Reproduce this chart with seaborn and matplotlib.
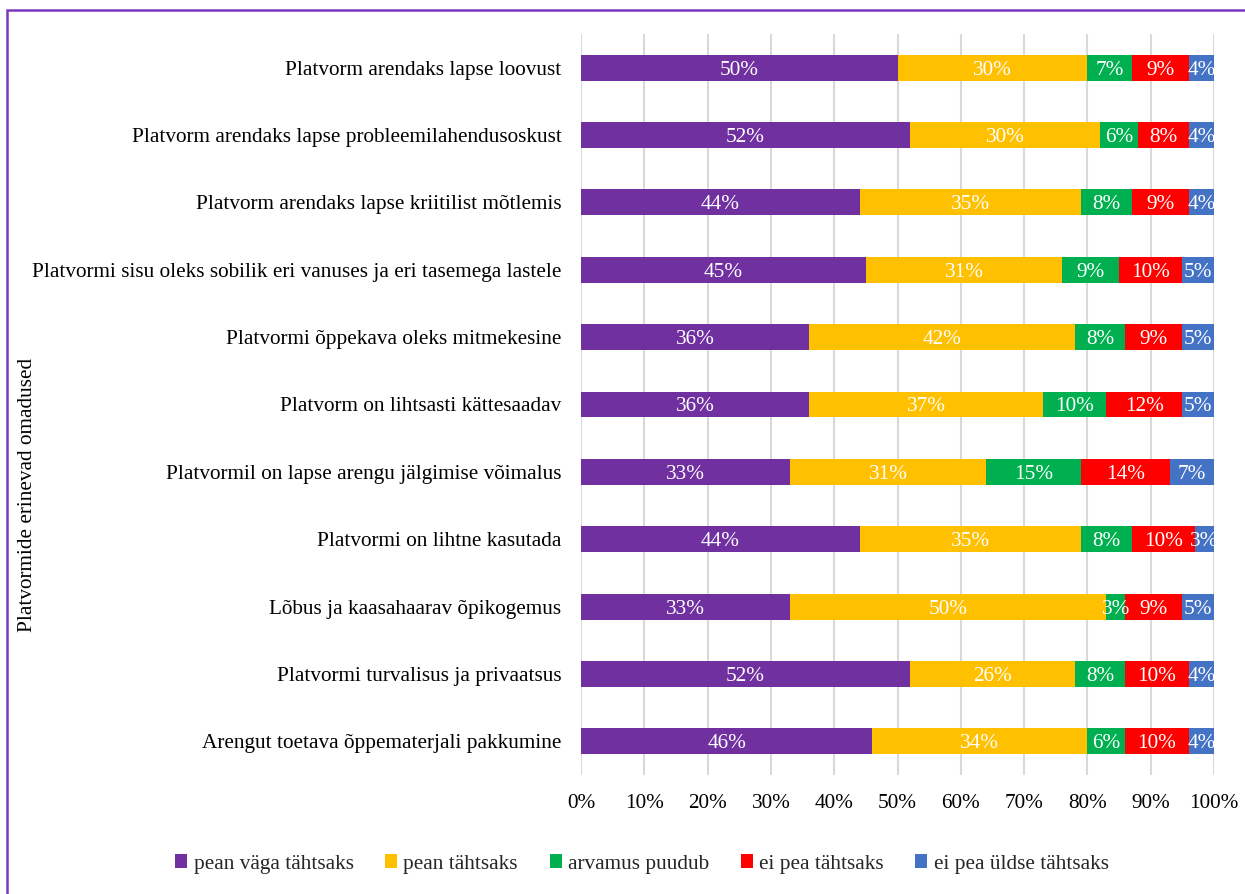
import numpy as np
import pandas as pd
import matplotlib
matplotlib.use('Agg')
import matplotlib.pyplot as plt
from matplotlib.patches import Patch, Rectangle
import seaborn as sns

categories = [
    'Platvorm arendaks lapse loovust',
    'Platvorm arendaks lapse probleemilahendusoskust',
    'Platvorm arendaks lapse kriitilist mõtlemis',
    'Platvormi sisu oleks sobilik eri vanuses ja eri tasemega lastele',
    'Platvormi õppekava oleks mitmekesine',
    'Platvorm on lihtsasti kättesaadav',
    'Platvormil on lapse arengu jälgimise võimalus',
    'Platvormi on lihtne kasutada',
    'Lõbus ja kaasahaarav õpikogemus',
    'Platvormi turvalisus ja privaatsus',
    'Arengut toetava õppematerjali pakkumine',
]
series = ['pean väga tähtsaks', 'pean tähtsaks', 'arvamus puudub',
          'ei pea tähtsaks', 'ei pea üldse tähtsaks']
pean_vaga = [50, 52, 44, 45, 36, 36, 33, 44, 33, 52, 46]
pean = [30, 30, 35, 31, 42, 37, 31, 35, 50, 26, 34]
arvamus_puudub = [7, 6, 8, 9, 8, 10, 15, 8, 3, 8, 6]
ei_pea = [9, 8, 9, 10, 9, 12, 14, 10, 9, 10, 10]
ei_pea_uldse = [4, 4, 4, 5, 5, 5, 7, 3, 5, 4, 4]
colors = ['#7030A0', '#FFC000', '#00B050', '#FF0000', '#4472C4']

df = pd.DataFrame({'kategooria': categories})
values = [pean_vaga, pean, arvamus_puudub, ei_pea, ei_pea_uldse]
for name, vals in zip(series, values):
    df[name] = vals

sns.set_theme(style='white')
plt.rcParams['font.family'] = ['Liberation Serif', 'DejaVu Serif']
FS = 15.3

fig = plt.figure(figsize=(12.45, 8.94), dpi=100)
ax = fig.add_axes([581 / 1245, 1 - 775 / 894, (1214 - 581) / 1245, (775 - 34) / 894])

# cumulative sums, drawn from the widest to the narrowest so they stack
cum = df[series].cumsum(axis=1)
for name, col in reversed(list(zip(series, colors))):
    sns.barplot(data=cum.assign(kategooria=df['kategooria']), x=name, y='kategooria',
                color=col, saturation=1, width=0.385, orient='h', ax=ax,
                linewidth=0, zorder=3)

# segment labels
for i in range(len(categories)):
    left = 0
    for name in series:
        v = df.loc[i, name]
        ax.text(left + v / 2, i, f'{v}%', ha='center', va='center_baseline',
                color='white', fontsize=FS, zorder=5)
        left += v

ax.set_xlim(0, 100)
ax.set_xticks(np.arange(0, 101, 10))
ax.set_xticklabels([f'{t}%' for t in range(0, 101, 10)])
ax.xaxis.grid(True, color='#D9D9D9', linewidth=1.5, zorder=0)
ax.yaxis.grid(False)
for s in ax.spines.values():
    s.set_visible(False)
ax.tick_params(axis='x', length=0, pad=14, labelsize=FS, labelcolor='#000000')
ax.tick_params(axis='y', length=0, pad=14, labelsize=FS, labelcolor='#000000')
ax.set_xlabel('')
ax.set_ylabel('')

fig.text(28 / 1245, 1 - 495 / 894, 'Platvormide erinevad omadused', rotation=90,
         ha='center', va='center', fontsize=FS, color='#000000')

handles = [Patch(facecolor=c, edgecolor='none') for c in colors]
fig.legend(handles, series, loc='center', bbox_to_anchor=(642 / 1245, 1 - 864 / 894),
           ncol=5, frameon=False, fontsize=FS, handlelength=0.55, handleheight=0.6,
           handletextpad=0.3, columnspacing=1.5)

# chart area border (cut at right and bottom)
fig.patches.append(Rectangle((7 / 1245, -0.1), 1.2, 1.1 - 10.5 / 894,
                             transform=fig.transFigure, fill=False,
                             edgecolor='#7B38BE', linewidth=1.8))

fig.savefig('out.png', dpi=100)
